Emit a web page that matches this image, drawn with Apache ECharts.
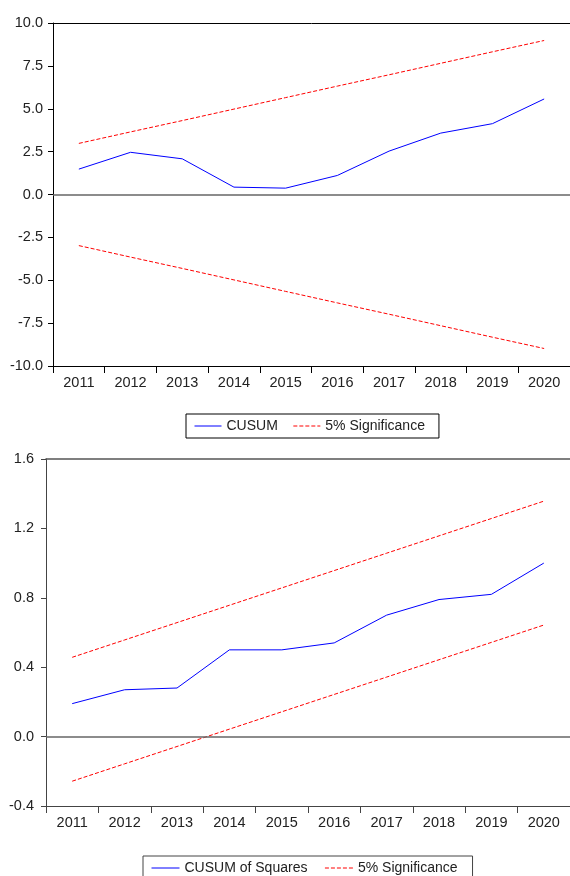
<!DOCTYPE html>
<html>
<head>
<meta charset="utf-8">
<script src="https://cdn.jsdelivr.net/npm/echarts@6/dist/echarts.min.js"></script>
<style>
html,body{margin:0;padding:0;background:#fff;}
#c{width:570px;height:876px;}
</style>
</head>
<body>
<div id="c"></div>
<script>
const years = ['2011','2012','2013','2014','2015','2016','2017','2018','2019','2020'];
const cusum = [1.48, 2.46, 2.08, 0.43, 0.37, 1.11, 2.53, 3.58, 4.13, 5.57];
const cusumUpper = [2.98, 3.65, 4.31, 4.98, 5.65, 6.32, 6.98, 7.65, 8.32, 8.98];
const cusumLower = [-2.98, -3.65, -4.31, -4.98, -5.65, -6.32, -6.98, -7.65, -8.32, -8.98];
const cusumSq = [0.19, 0.27, 0.28, 0.50, 0.50, 0.54, 0.70, 0.79, 0.82, 1.00];
const sqUpper = [0.457, 0.557, 0.657, 0.757, 0.857, 0.957, 1.057, 1.157, 1.257, 1.357];
const sqLower = [-0.257, -0.157, -0.057, 0.043, 0.143, 0.243, 0.343, 0.443, 0.543, 0.643];
const topTicks = [-10, 10, 2.5];
const bottomTicks = [-0.4, 1.6, 0.4];

const FONT = "'Liberation Sans', Arial, sans-serif";
const TXT = '#222';
const chart = echarts.init(document.getElementById('c'));

function xAx(gi, color) {
  return {
    type: 'category', gridIndex: gi, data: years, boundaryGap: true, position: 'bottom',
    axisLine: {onZero: false, lineStyle: {color: color, width: 1}},
    axisTick: {show: true, alignWithLabel: false, inside: false, length: 7, lineStyle: {color: color}},
    axisLabel: {color: TXT, fontFamily: FONT, fontSize: 14.5, margin: 9, interval: 0},
    splitLine: {show: false}
  };
}
function xTop(gi, color, w) {
  return {
    type: 'category', gridIndex: gi, data: years, boundaryGap: true, position: 'top',
    axisLine: {onZero: false, lineStyle: {color: color, width: w}},
    axisTick: {show: false}, axisLabel: {show: false}, splitLine: {show: false}
  };
}
function yAx(gi, t, color, margin) {
  return {
    type: 'value', gridIndex: gi, min: t[0], max: t[1], interval: t[2],
    axisLine: {show: true, lineStyle: {color: color, width: 1}},
    axisTick: {show: true, inside: false, length: 5, lineStyle: {color: color}},
    axisLabel: {color: TXT, fontFamily: FONT, fontSize: 14.5, margin: margin,
      formatter: v => v.toFixed(1)},
    splitLine: {show: false}
  };
}
const red = {color: '#ff0000', width: 1, type: [4, 2]};
const blue = {color: '#0000ff', width: 1, type: 'solid'};
function line(name, data, gi, style, z, mark) {
  const s = {
    name: name, type: 'line', xAxisIndex: gi * 2, yAxisIndex: gi, data: data,
    symbol: 'none', showSymbol: false, lineStyle: style, itemStyle: {color: style.color},
    emphasis: {disabled: true}, animation: false, z: z
  };
  if (mark) {
    s.markLine = {silent: true, symbol: 'none', label: {show: false},
      lineStyle: {color: '#666', width: 1.5, type: 'solid'}, data: [{yAxis: 0}], animation: false};
  }
  return s;
}
const hiddenSym = {opacity: 0, color: 'rgba(0,0,0,0)', borderColor: 'rgba(0,0,0,0)', borderWidth: 0};

chart.setOption({
  backgroundColor: '#fff',
  animation: false,
  grid: [
    {left: 53, top: 23, width: 520, height: 343},
    {left: 46, top: 459, width: 529, height: 347}
  ],
  xAxis: [xAx(0, '#000'), xTop(0, '#000', 1), xAx(1, '#444'), xTop(1, '#555', 1.5)],
  yAxis: [yAx(0, topTicks, '#000', 10), yAx(1, bottomTicks, '#444', 12)],
  legend: [
    {data: ['CUSUM', '5% Significance'], left: 186, top: 414, orient: 'horizontal',
      borderColor: '#000', borderWidth: 1, padding: [5, 14, 5, 8], itemGap: 15,
      itemWidth: 27, itemHeight: 14, selectedMode: false, itemStyle: hiddenSym,
      lineStyle: {width: 1},
      textStyle: {color: TXT, fontFamily: FONT, fontSize: 14}},
    {data: ['CUSUM of Squares', '5% Significance'], left: 143, top: 856, orient: 'horizontal',
      borderColor: '#444', borderWidth: 1, padding: [5, 15, 5, 8], itemGap: 17,
      itemWidth: 28, itemHeight: 14, selectedMode: false, itemStyle: hiddenSym,
      lineStyle: {width: 1},
      textStyle: {color: TXT, fontFamily: FONT, fontSize: 14}}
  ],
  series: [
    line('CUSUM', cusum, 0, blue, 3, true),
    line('5% Significance', cusumUpper, 0, red, 2),
    line('5% Significance', cusumLower, 0, red, 2),
    line('CUSUM of Squares', cusumSq, 1, blue, 3, true),
    line('5% Significance', sqUpper, 1, red, 2),
    line('5% Significance', sqLower, 1, red, 2)
  ]
});
</script>
</body>
</html>
